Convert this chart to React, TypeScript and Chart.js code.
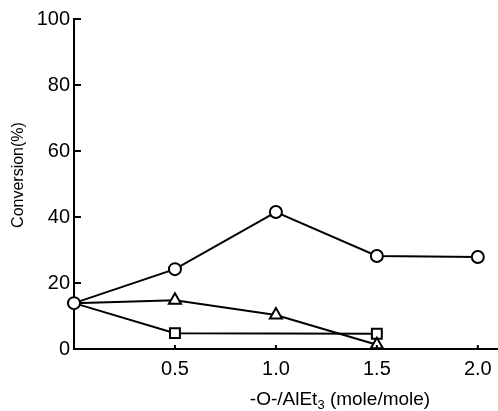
import { useEffect, useRef } from "react";
import { Chart, registerables } from "chart.js";
Chart.register(...registerables);

const xCircle = [0, 0.5, 1.0, 1.5, 2.0];
const yCircle = [13.9, 24.2, 41.5, 28.2, 27.9];
const xTriangle = [0, 0.5, 1.0, 1.5];
const yTriangle = [13.9, 14.8, 10.3, 1.3];
const xSquare = [0, 0.5, 1.5];
const ySquare = [13.9, 4.8, 4.6];
const xTicks = [0.5, 1.0, 1.5, 2.0];
const yTicks = [0, 20, 40, 60, 80, 100];
const xTitleMain = "-O-/AlEt";
const xTitleSub = "3";
const xTitleTail = " (mole/mole)";
const yTitle = "Conversion(%)";

const FONT = "'Liberation Sans', Arial, sans-serif";

const fullWidth = {
  id: "fullWidth",
  afterLayout(chart: any) {
    const xs = chart.scales.x;
    const right = chart.width;
    chart.chartArea.right = right;
    chart.chartArea.width = right - chart.chartArea.left;
    xs.right = right;
    xs.width = right - xs.left;
    xs.configure();
  },
};

const decorations = {
  id: "decorations",
  afterDraw(chart: any) {
    const ctx = chart.ctx;
    const xs = chart.scales.x;
    const ys = chart.scales.y;
    const x0 = xs.getPixelForValue(0);
    const y0 = ys.getPixelForValue(0);
    ctx.save();
    ctx.strokeStyle = "#000";
    ctx.lineWidth = 2;
    yTicks.forEach((v) => {
      if (v === 0) return;
      const py = ys.getPixelForValue(v);
      ctx.beginPath();
      ctx.moveTo(x0, py);
      ctx.lineTo(x0 + 7, py);
      ctx.stroke();
    });
    xTicks.forEach((v) => {
      const px = xs.getPixelForValue(v);
      ctx.beginPath();
      ctx.moveTo(px, y0);
      ctx.lineTo(px, y0 - 4);
      ctx.stroke();
    });
    ctx.fillStyle = "#000";
    ctx.textBaseline = "middle";
    ctx.textAlign = "left";
    const big = `19px ${FONT}`;
    const small = `13px ${FONT}`;
    ctx.font = big;
    const w1 = ctx.measureText(xTitleMain).width;
    const w3 = ctx.measureText(xTitleTail).width;
    ctx.font = small;
    const w2 = ctx.measureText(xTitleSub).width;
    const total = w1 + w2 + w3;
    const cx = 340;
    const cy = 400;
    let sx = cx - total / 2;
    ctx.font = big;
    ctx.fillText(xTitleMain, sx, cy);
    sx += w1;
    ctx.font = small;
    ctx.fillText(xTitleSub, sx, cy + 5);
    sx += w2;
    ctx.font = big;
    ctx.fillText(xTitleTail, sx, cy);
    ctx.translate(19, 175);
    ctx.rotate(-Math.PI / 2);
    ctx.textAlign = "center";
    ctx.font = `16px ${FONT}`;
    ctx.fillText(yTitle, 0, 0);
    ctx.restore();
  },
};

function toPts(xs: number[], ys: number[]) {
  return xs.map((x, i) => ({ x, y: ys[i] }));
}

export default function App() {
  const ref = useRef<HTMLCanvasElement | null>(null);
  useEffect(() => {
    if (!ref.current) return;
    const common = {
      borderColor: "#000",
      borderWidth: 2,
      pointBorderColor: "#000",
      pointBackgroundColor: "#fff",
      pointBorderWidth: 2,
      showLine: true,
      tension: 0,
      clip: false,
    };
    const chart = new Chart(ref.current, {
      type: "scatter",
      data: {
        datasets: [
          { ...common, data: toPts(xCircle, yCircle), pointStyle: "circle", pointRadius: 6 },
          {
            ...common,
            data: toPts(xTriangle, yTriangle),
            pointStyle: "triangle",
            pointRadius: xTriangle.map((x) => (x === 0 ? 0 : 7)),
          },
          {
            ...common,
            data: toPts(xSquare, ySquare),
            pointStyle: "rect",
            pointRadius: xSquare.map((x) => (x === 0 ? 0 : 7)),
          },
        ],
      },
      options: {
        animation: false,
        responsive: false,
        layout: { padding: { left: 0, right: 0, top: 19, bottom: 0 } },
        plugins: { legend: { display: false }, tooltip: { enabled: false } },
        scales: {
          x: {
            type: "linear",
            min: 0,
            max: 2.1,
            afterBuildTicks: (s: any) => {
              s.ticks = xTicks.map((v) => ({ value: v }));
            },
            afterFit: (s: any) => {
              s.height = 62;
              s.paddingRight = 0;
              s.paddingLeft = 0;
            },
            grid: { display: false, drawTicks: false },
            border: { display: true, color: "#000", width: 2 },
            ticks: {
              color: "#000",
              font: { family: FONT, size: 20 },
              padding: 8,
              maxRotation: 0,
              callback: (v: any) => Number(v).toFixed(1),
            },
            title: { display: false },
          },
          y: {
            type: "linear",
            min: 0,
            max: 100,
            afterBuildTicks: (s: any) => {
              s.ticks = yTicks.map((v) => ({ value: v }));
            },
            afterFit: (s: any) => {
              s.width = 74;
              s.paddingTop = 0;
              s.paddingBottom = 0;
            },
            grid: { display: false, drawTicks: false },
            border: { display: true, color: "#000", width: 2 },
            ticks: {
              color: "#000",
              font: { family: FONT, size: 20 },
              padding: 4,
            },
            title: { display: false },
          },
        },
      },
      plugins: [fullWidth, decorations],
    } as any);
    return () => chart.destroy();
  }, []);
  return (
    <div style={{ position: "fixed", left: 0, top: 0, width: 498, height: 411, background: "#fff" }}>
      <canvas ref={ref} width={498} height={411} />
    </div>
  );
}
